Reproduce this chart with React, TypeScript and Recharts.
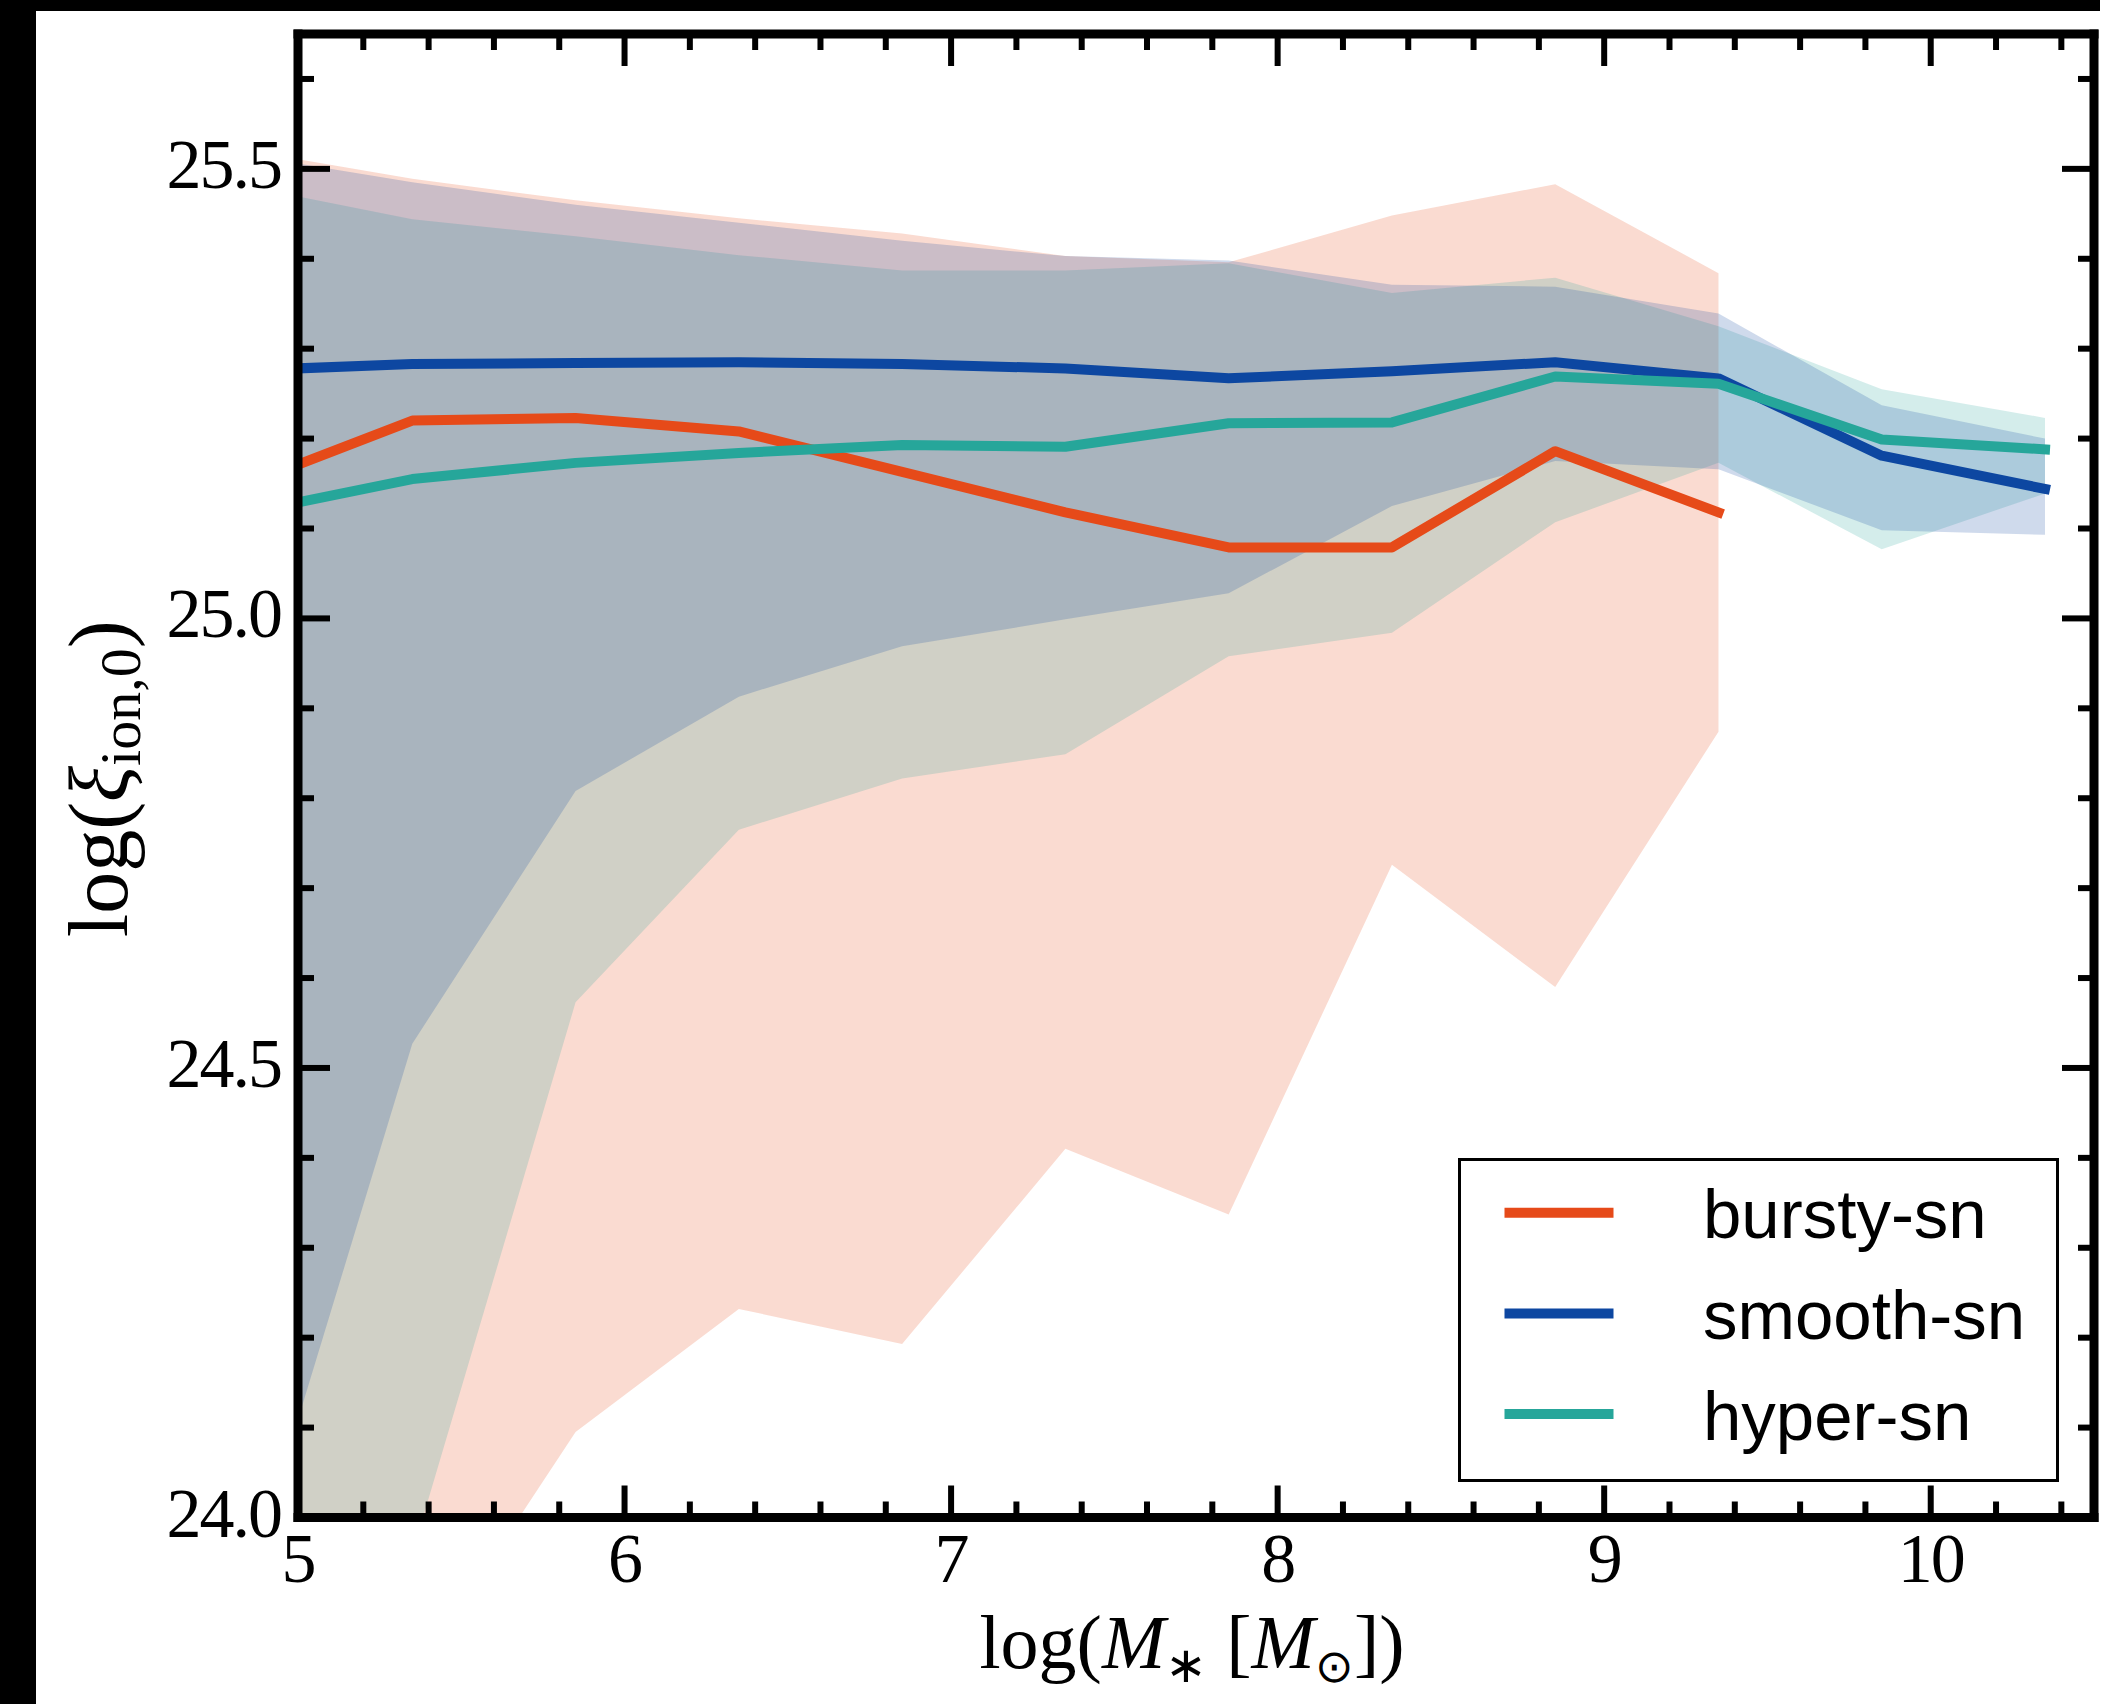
import React from 'react';
import { ComposedChart, Area, Line, XAxis, YAxis, Legend } from 'recharts';

// ---- data ----
const massBins = [4.85, 5.35, 5.85, 6.35, 6.85, 7.35, 7.85, 8.35, 8.85, 9.35, 9.85, 10.35];

const burstyMedian = [25.15, 25.22, 25.223, 25.208, 25.163, 25.118, 25.079, 25.079, 25.186, 25.118, null, null];
const burstyLow = [23.3, 23.82, 24.095, 24.232, 24.193, 24.41, 24.337, 24.726, 24.59, 24.874, null, null];
const burstyHigh = [25.52, 25.489, 25.465, 25.445, 25.428, 25.403, 25.396, 25.448, 25.483, 25.384, null, null];

const smoothMedian = [25.276, 25.283, 25.284, 25.285, 25.283, 25.278, 25.267, 25.275, 25.285, 25.267, 25.181, 25.144];
const smoothLow = [23.93, 24.527, 24.808, 24.913, 24.969, 24.999, 25.028, 25.125, 25.175, 25.166, 25.098, 25.093];
const smoothHigh = [25.515, 25.485, 25.46, 25.44, 25.42, 25.403, 25.398, 25.371, 25.369, 25.339, 25.237, 25.2];

const hyperMedian = [25.118, 25.155, 25.173, 25.184, 25.193, 25.191, 25.217, 25.218, 25.269, 25.261, 25.199, 25.188];
const hyperLow = [23.35, 23.96, 24.573, 24.765, 24.822, 24.849, 24.958, 24.984, 25.107, 25.173, 25.077, 25.139];
const hyperHigh = [25.48, 25.444, 25.425, 25.404, 25.387, 25.387, 25.395, 25.362, 25.379, 25.325, 25.255, 25.223];

const xTicks = [5, 5.2, 5.4, 5.6, 5.8, 6, 6.2, 6.4, 6.6, 6.8, 7, 7.2, 7.4, 7.6, 7.8, 8, 8.2, 8.4, 8.6, 8.8, 9, 9.2, 9.4, 9.6, 9.8, 10, 10.2, 10.4];
const xTickLabels = [5, 6, 7, 8, 9, 10];
const yTicks = [24, 24.1, 24.2, 24.3, 24.4, 24.5, 24.6, 24.7, 24.8, 24.9, 25, 25.1, 25.2, 25.3, 25.4, 25.5, 25.6];
const yTickLabels = [24, 24.5, 25, 25.5];

const seriesMeta = [
  { key: 'bursty', name: 'bursty-sn', color: '#E64A19' },
  { key: 'smooth', name: 'smooth-sn', color: '#0D47A1' },
  { key: 'hyper', name: 'hyper-sn', color: '#26A69A' },
];

const band = (lo: (number | null)[], hi: (number | null)[], i: number) =>
  lo[i] == null || hi[i] == null ? null : [lo[i] as number, hi[i] as number];

const data = massBins.map((x, i) => ({
  x,
  bursty: burstyMedian[i],
  smooth: smoothMedian[i],
  hyper: hyperMedian[i],
  burstyBand: band(burstyLow, burstyHigh, i),
  smoothBand: band(smoothLow, smoothHigh, i),
  hyperBand: band(hyperLow, hyperHigh, i),
}));

// ---- layout ----
const W = 2110;
const H = 1704;
const PLOT_LEFT = 298;
const PLOT_RIGHT = 2094;
const PLOT_TOP = 34;
const PLOT_BOTTOM = 1517.5;
const LEFT_AXIS_W = 60;
const RIGHT_AXIS_W = 10;
const TOP_AXIS_H = 10;
const BOTTOM_AXIS_H = 60;

const SERIF = "'Liberation Serif', 'Times New Roman', serif";
const SANS = "'Liberation Sans', Arial, sans-serif";
const MAJOR_LEN = 32;
const MINOR_LEN = 16;
const TICK_W = 6;

const inList = (v: number, list: number[]) => list.some((m) => Math.abs(m - v) < 1e-6);

const BottomTick = (props: any) => {
  const { x, y, payload } = props;
  const v = payload.value as number;
  const major = inList(v, xTickLabels);
  return (
    <g>
      <line x1={x} x2={x} y1={y} y2={y - (major ? MAJOR_LEN : MINOR_LEN)} stroke="#000" strokeWidth={TICK_W} />
      {major && (
        <text x={x} y={y + 64} textAnchor="middle" fontFamily={SERIF} fontSize={70} letterSpacing={-2} fill="#000">
          {String(Math.round(v))}
        </text>
      )}
    </g>
  );
};

const TopTick = (props: any) => {
  const { x, y, payload } = props;
  const major = inList(payload.value, xTickLabels);
  return <line x1={x} x2={x} y1={y} y2={y + (major ? MAJOR_LEN : MINOR_LEN)} stroke="#000" strokeWidth={TICK_W} />;
};

const LeftTick = (props: any) => {
  const { x, y, payload } = props;
  const v = payload.value as number;
  const major = inList(v, yTickLabels);
  return (
    <g>
      <line x1={x} x2={x + (major ? MAJOR_LEN : MINOR_LEN)} y1={y} y2={y} stroke="#000" strokeWidth={TICK_W} />
      {major && (
        <text x={x - 17} y={y + 19} textAnchor="end" fontFamily={SERIF} fontSize={70} letterSpacing={-2} fill="#000">
          {v.toFixed(1)}
        </text>
      )}
    </g>
  );
};

const RightTick = (props: any) => {
  const { x, y, payload } = props;
  const major = inList(payload.value, yTickLabels);
  return <line x1={x} x2={x - (major ? MAJOR_LEN : MINOR_LEN)} y1={y} y2={y} stroke="#000" strokeWidth={TICK_W} />;
};

const XTitle = (props: any) => {
  const vb = props.viewBox || { x: PLOT_LEFT, y: PLOT_BOTTOM, width: PLOT_RIGHT - PLOT_LEFT };
  const cx = vb.x + vb.width / 2 - 4;
  const y = PLOT_BOTTOM + 150.5;
  return (
    <text x={cx} y={y} textAnchor="middle" fontFamily={SERIF} fontSize={76} fill="#000">
      log(
      <tspan fontStyle="italic">M</tspan>
      <tspan fontSize={50} dy={14}>∗</tspan>
      <tspan dy={-14}> [</tspan>
      <tspan fontStyle="italic">M</tspan>
      <tspan fontSize={46} dy={14}>⊙</tspan>
      <tspan dy={-14}>])</tspan>
    </text>
  );
};

const YTitle = (props: any) => {
  const vb = props.viewBox || { y: PLOT_TOP, height: PLOT_BOTTOM - PLOT_TOP };
  const cy = vb.y + vb.height / 2 + 3;
  const x = 127;
  return (
    <text x={x} y={cy} transform={`rotate(-90 ${x} ${cy})`} textAnchor="middle" fontFamily={SERIF} fontSize={84} fill="#000">
      log(
      <tspan fontStyle="italic">ξ</tspan>
      <tspan fontSize={58} dy={13}>ion,0</tspan>
      <tspan dy={-13}>)</tspan>
    </text>
  );
};

const LegendBox = () => (
  <svg width={601} height={324} style={{ display: 'block' }}>
    <rect x={1.5} y={1.5} width={598} height={321} fill="#fff" stroke="#000" strokeWidth={3} />
    {seriesMeta.map((s, i) => {
      const cy = 54.7 + i * 100.7;
      return (
        <g key={s.key}>
          <line x1={46.5} x2={155.5} y1={cy} y2={cy} stroke={s.color} strokeWidth={10} />
          <text x={245} y={cy + 25.5} fontFamily={SANS} fontSize={69} fill="#000">
            {s.name}
          </text>
        </g>
      );
    })}
  </svg>
);

const spine = { stroke: '#000', strokeWidth: 9, strokeLinecap: 'square' as const };

export default function App() {
  return (
    <div style={{ position: 'absolute', left: 0, top: 0, width: W, height: H, background: '#fff', overflow: 'hidden' }}>
      <ComposedChart
        width={W}
        height={H}
        data={data}
        margin={{
          left: PLOT_LEFT - LEFT_AXIS_W,
          right: W - PLOT_RIGHT - RIGHT_AXIS_W,
          top: PLOT_TOP - TOP_AXIS_H,
          bottom: H - PLOT_BOTTOM - BOTTOM_AXIS_H,
        }}
      >
        <Area dataKey="burstyBand" type="linear" stroke="none" fill={seriesMeta[0].color} fillOpacity={0.2} isAnimationActive={false} dot={false} activeDot={false} legendType="none" />
        <Area dataKey="hyperBand" type="linear" stroke="none" fill={seriesMeta[2].color} fillOpacity={0.2} isAnimationActive={false} dot={false} activeDot={false} legendType="none" />
        <Area dataKey="smoothBand" type="linear" stroke="none" fill={seriesMeta[1].color} fillOpacity={0.2} isAnimationActive={false} dot={false} activeDot={false} legendType="none" />

        <Line dataKey="bursty" name="bursty-sn" type="linear" stroke={seriesMeta[0].color} strokeWidth={10} strokeLinecap="square" strokeLinejoin="round" dot={false} activeDot={false} isAnimationActive={false} />
        <Line dataKey="smooth" name="smooth-sn" type="linear" stroke={seriesMeta[1].color} strokeWidth={10} strokeLinecap="square" strokeLinejoin="round" dot={false} activeDot={false} isAnimationActive={false} />
        <Line dataKey="hyper" name="hyper-sn" type="linear" stroke={seriesMeta[2].color} strokeWidth={10} strokeLinecap="square" strokeLinejoin="round" dot={false} activeDot={false} isAnimationActive={false} />

        <Line xAxisId="top" yAxisId="right" dataKey="smooth" stroke="none" dot={false} activeDot={false} legendType="none" isAnimationActive={false} />

        <XAxis
          dataKey="x"
          type="number"
          domain={[5, 10.5]}
          allowDataOverflow
          ticks={xTicks}
          interval={0}
          height={BOTTOM_AXIS_H}
          tickSize={0}
          tickMargin={0}
          tickLine={false}
          tick={(p: any) => <BottomTick {...p} />}
          axisLine={spine}
          label={<XTitle />}
        />
        <XAxis
          xAxisId="top"
          orientation="top"
          dataKey="x"
          type="number"
          domain={[5, 10.5]}
          allowDataOverflow
          ticks={xTicks}
          interval={0}
          height={TOP_AXIS_H}
          tickSize={0}
          tickMargin={0}
          tickLine={false}
          tick={(p: any) => <TopTick {...p} />}
          axisLine={spine}
        />
        <YAxis
          type="number"
          domain={[24, 25.65]}
          allowDataOverflow
          ticks={yTicks}
          interval={0}
          width={LEFT_AXIS_W}
          tickSize={0}
          tickMargin={0}
          tickLine={false}
          tick={(p: any) => <LeftTick {...p} />}
          axisLine={spine}
          label={<YTitle />}
        />
        <YAxis
          yAxisId="right"
          orientation="right"
          type="number"
          domain={[24, 25.65]}
          allowDataOverflow
          ticks={yTicks}
          interval={0}
          width={RIGHT_AXIS_W}
          tickSize={0}
          tickMargin={0}
          tickLine={false}
          tick={(p: any) => <RightTick {...p} />}
          axisLine={spine}
        />
        <Legend
          layout="vertical"
          align="center"
          verticalAlign="middle"
          wrapperStyle={{ left: 1458, top: 1158, width: 601, height: 324 }}
          content={() => <LegendBox />}
        />
      </ComposedChart>
      <div style={{ position: 'absolute', left: 0, top: 0, width: 2100, height: 11, background: '#000' }} />
      <div style={{ position: 'absolute', left: 0, top: 0, width: 36, height: H, background: '#000' }} />
    </div>
  );
}
